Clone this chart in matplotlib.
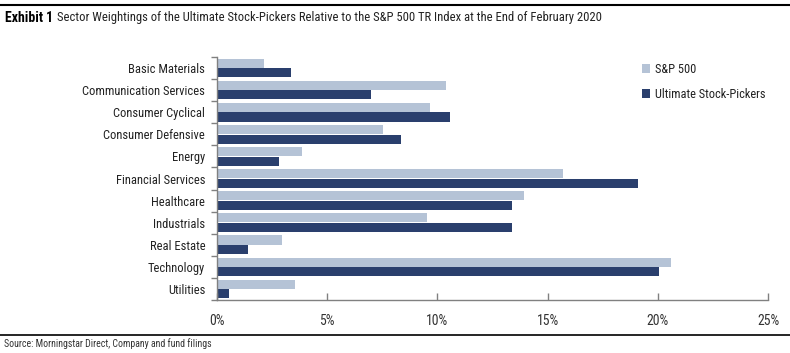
import matplotlib
matplotlib.use("Agg")
import matplotlib.pyplot as plt
from matplotlib import font_manager as fm
from matplotlib.font_manager import FontProperties
from matplotlib.textpath import TextPath
import numpy as np

names = {f.name for f in fm.fontManager.ttflist}
FONT = 'DejaVu Sans'
for cand in ['Roboto Condensed', 'Liberation Sans Narrow', 'Open Sans Condensed', 'Roboto', 'Liberation Sans']:
    if cand in names:
        FONT = cand
        break
plt.rcParams['font.family'] = [FONT, 'DejaVu Sans']

categories = ["Basic Materials", "Communication Services", "Consumer Cyclical",
              "Consumer Defensive", "Energy", "Financial Services", "Healthcare",
              "Industrials", "Real Estate", "Technology", "Utilities"]
sp500 = [2.12, 10.41, 9.66, 7.51, 3.84, 15.68, 13.92, 9.52, 2.93, 20.58, 3.54]
usp = [3.34, 6.97, 10.59, 8.33, 2.80, 19.08, 13.37, 13.37, 1.41, 20.04, 0.54]
xticks = [0, 5, 10, 15, 20, 25]
xticklabels = ["0%", "5%", "10%", "15%", "20%", "25%"]
series_names = ["S&P 500", "Ultimate Stock-Pickers"]
title_lead = "Exhibit 1"
title_text = "Sector Weightings of the Ultimate Stock-Pickers Relative to the S&P 500 TR Index at the End of February 2020"
source_text = "Source: Morningstar Direct, Company and fund filings"

LIGHT = "#B5C3D6"
DARK = "#2A3F6D"
GRAY = "#808080"


def fit(text, target_px, weight='normal'):
    prop = FontProperties(family=[FONT, 'DejaVu Sans'], weight=weight)
    w = TextPath((0, 0), text, size=100, prop=prop).get_extents().width  # points at size 100
    px_per_pt = 100 / 72
    return 100 * target_px / (w * px_per_pt)


fs_label = fit("Communication Services", 121)
fs_title = fit(title_text, 541)
fs_lead = fit(title_lead, 45, weight='bold')
fs_source = fit(source_text, 208)
fs_legend = fit("Ultimate Stock-Pickers", 110)
fs_tick = fit("10%", 20.6)

fig = plt.figure(figsize=(7.9, 3.53), dpi=100)
ax = fig.add_axes([217/790, 1-300/353, (768-217)/790, (300-57)/353])

y = np.arange(len(categories))
h = 0.41
off = 0.215
ax.barh(y - off, sp500, height=h, color=LIGHT, label=series_names[0])
ax.barh(y + off, usp, height=h, color=DARK, label=series_names[1])

ax.set_xlim(0, 25)
ax.set_ylim(len(categories) - 0.5, -0.5)
ax.set_xticks(xticks)
ax.set_xticklabels(xticklabels, fontsize=fs_tick, color="#333333")
ax.set_yticks(y)
ax.set_yticklabels(categories, fontsize=fs_label, color="#222222")
ax.tick_params(axis='y', which='major', length=0, pad=8.5)
ax.set_yticks(np.arange(-0.5, len(categories), 1.0), minor=True)
ax.tick_params(axis='y', which='minor', length=4, direction='out', color=GRAY, width=1)
ax.tick_params(axis='x', which='major', length=5, direction='in', color=GRAY, width=1, pad=10)
for s in ['top', 'right']:
    ax.spines[s].set_visible(False)
for s in ['left', 'bottom']:
    ax.spines[s].set_color(GRAY)
    ax.spines[s].set_linewidth(1)

leg = ax.legend(loc='upper left', bbox_to_anchor=(633/790, 1-54/353), bbox_transform=fig.transFigure,
                frameon=False, fontsize=fs_legend, handlelength=0.7, handleheight=0.7,
                handletextpad=0.4, labelspacing=0.95, borderpad=0.2)
for t in leg.get_texts():
    t.set_color("#222222")

# Title and rules
fig.add_artist(plt.Line2D([0, 1], [1-5/353, 1-5/353], color='black', lw=1.5, transform=fig.transFigure))
fig.text(5/790, 1-18/353, title_lead, fontsize=fs_lead, fontweight='bold', va='center', ha='left')
fig.text(57/790, 1-18/353, title_text, fontsize=fs_title, va='center', ha='left', color="#222222")
fig.add_artist(plt.Line2D([0, 1], [1-335/353, 1-335/353], color='black', lw=1.2, transform=fig.transFigure))
fig.text(4/790, 1-344/353, source_text, fontsize=fs_source, va='center', ha='left', color="#333333")

fig.savefig("out.png", dpi=100)
